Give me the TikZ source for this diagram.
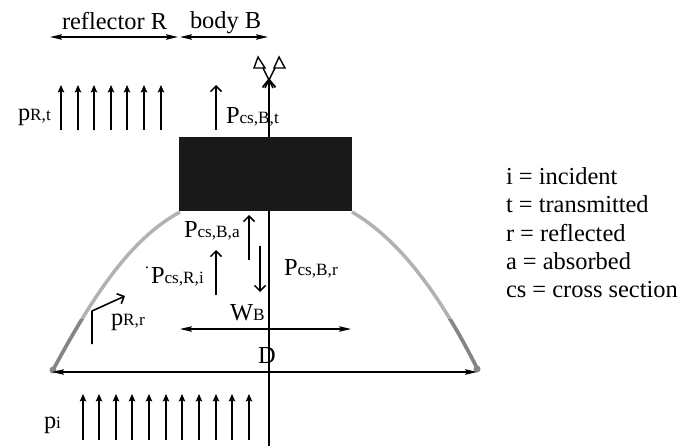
\documentclass[tikz,border=0pt]{standalone}
\usepackage{fontspec}
\setmainfont{Liberation Serif}
\usetikzlibrary{arrows.meta}
\newcommand{\mainsub}[2]{{\fontsize{13.9}{16}\selectfont #1}{\fontsize{9.8}{12}\selectfont #2}}
\tikzset{
    lbl/.style={anchor=base west, inner sep=0pt, outer sep=0pt, font=\fontsize{13.9}{16}\selectfont},
    dimline/.style={line width=0.85pt, {Stealth[length=2.4mm, width=1.1mm, inset=0.4mm]}-{Stealth[length=2.4mm, width=1.1mm, inset=0.4mm]}},
    fluxsmall/.style={line width=0.85pt, -{Stealth[length=1.5mm, width=1.3mm, inset=0.3mm]}},
    fluxbig/.style={line width=0.9pt, -{Straight Barb[length=1.1mm, width=2.2mm]}},
    dishlight/.style={gray!60, line width=2pt},
    dishdark/.style={gray!95, line width=2pt},
    tiptri/.style={draw, line width=0.8pt, line join=miter}
}
\begin{document}
\begin{tikzpicture}[x=0.02cm, y=-0.02cm, line join=round]
    \useasboundingbox (0, 0) rectangle (695, 446);
    \coordinate (axisbot) at (269, 446);
    \coordinate (axistop) at (269, 78);
    \coordinate (dl) at (52, 372);
    \coordinate (dr) at (477, 372);
    \coordinate (wl) at (180, 329);
    \coordinate (wr) at (351, 329);
    \coordinate (rl) at (50, 37);
    \coordinate (rr) at (178, 37);
    \coordinate (bl) at (180, 37);
    \coordinate (br) at (268, 37);

    \draw[dishlight] (180, 212) .. controls (132, 238) and (95, 292) .. (53, 370);
    \draw[dishlight] (352, 212) .. controls (400, 240) and (440, 295) .. (477, 368);
    \begin{scope}
        \clip (0, 319) rectangle (695, 446);
        \draw[dishdark] (180, 212) .. controls (132, 238) and (95, 292) .. (53, 370);
        \draw[dishdark] (352, 212) .. controls (400, 240) and (440, 295) .. (477, 368);
    \end{scope}
    \fill[gray!95] (53, 370) circle (3.5);
    \fill[gray!95] (477, 369) circle (3.5);

    \draw[line width=1pt, -{Straight Barb[length=1.6mm, width=2.6mm]}] (axisbot) -- (axistop);
    \draw[line width=0.8pt] (273, 88) -- (263, 68);
    \draw[line width=0.8pt] (265, 88) -- (275, 68);
    \draw[tiptri] (258, 57) -- (254, 68) -- (265, 68) -- cycle;
    \draw[tiptri] (279, 57) -- (274, 68) -- (285, 68) -- cycle;

    \node[fill=black!90, minimum width=3.46cm, minimum height=1.48cm, inner sep=0pt, anchor=north west] (body) at (179, 137) {};

    \draw[dimline] (rl) -- (rr);
    \draw[dimline] (bl) -- (br);
    \draw[dimline] (wl) -- (wr);
    \draw[dimline] (dl) -- (dr);

    \foreach \x in {61, 78, 94, 111, 127, 144, 161} {
        \draw[fluxsmall] (\x, 130) -- (\x, 85);
    }
    \foreach \x in {83, 99, 116, 132, 149, 166, 182, 199, 216, 232, 249} {
        \draw[fluxsmall] (\x, 440) -- (\x, 394);
    }
    \draw[fluxbig] (216, 130) -- (216, 85);
    \draw[fluxbig] (249, 260) -- (249, 215);
    \draw[fluxbig] (260, 246) -- (260, 292);
    \draw[fluxbig] (216, 295) -- (216, 250);
    \draw[fluxbig] (92, 344) -- (92, 311) -- (125, 296);

    \node[lbl] (reflector) at (62, 30) {reflector R};
    \node[lbl] (bodyb) at (190, 29) {body B};
    \node[lbl] (prt) at (18, 120) {\mainsub{p}{R,t}};
    \node[lbl] (pcsbt) at (226, 123) {\mainsub{P}{cs,B,t}};
    \node[lbl] (pcsba) at (184, 237) {\mainsub{P}{cs,B,a}};
    \node[lbl] (dot) at (145, 268) {\fontsize{9}{10}\selectfont .};
    \node[lbl] (pcsri) at (151, 283) {\mainsub{P}{cs,R,i}};
    \node[lbl] (pcsbr) at (284, 275) {\mainsub{P}{cs,B,r}};
    \node[lbl] (wb) at (230, 320) {\mainsub{W}{B}};
    \node[lbl] (dlbl) at (258, 363) {D};
    \node[lbl] (prr) at (111, 325) {\mainsub{p}{R,r}};
    \node[lbl] (pi) at (44, 428) {\mainsub{p}{i}};

    \node[lbl] (incident) at (506, 184) {i = incident};
    \node[lbl] (transmitted) at (506, 212) {t = transmitted};
    \node[lbl] (reflected) at (506, 241) {r = reflected};
    \node[lbl] (absorbed) at (506, 269) {a = absorbed};
    \node[lbl] (crosssec) at (506, 297) {cs = cross section};
\end{tikzpicture}
\end{document}
